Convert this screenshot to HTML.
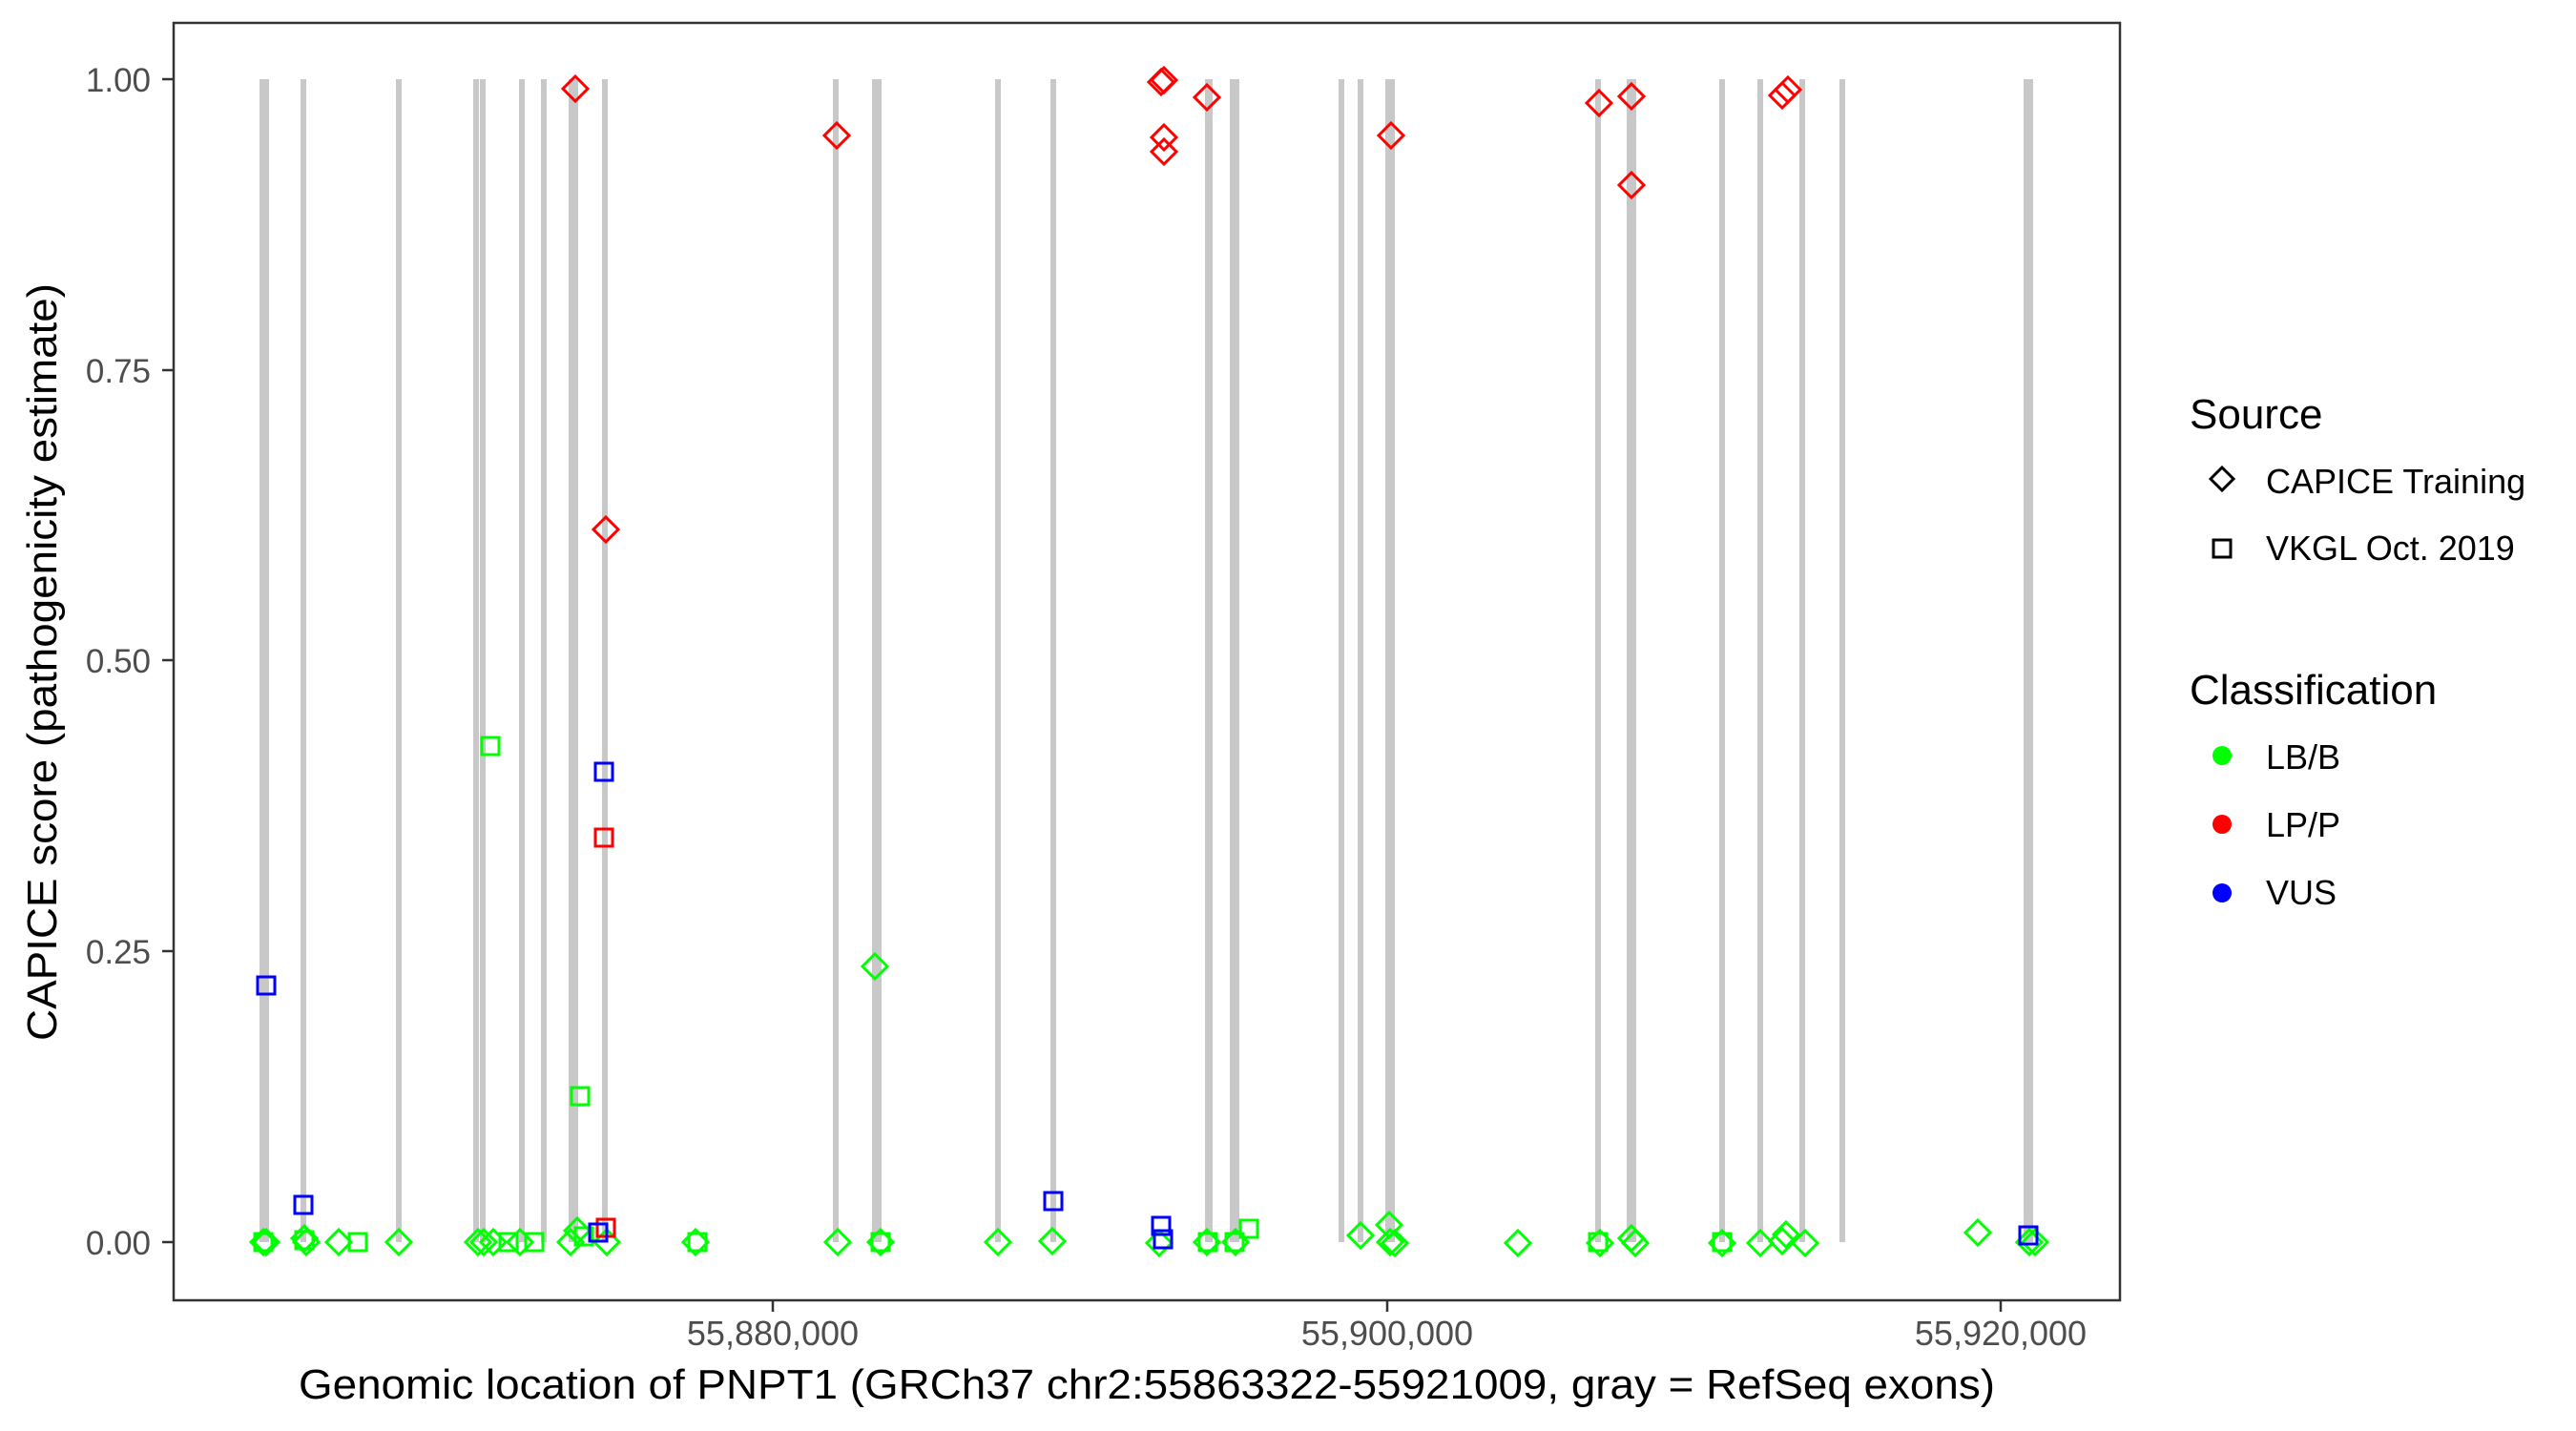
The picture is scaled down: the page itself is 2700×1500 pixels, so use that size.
<!DOCTYPE html>
<html><head><meta charset="utf-8"><style>
html,body{margin:0;padding:0;background:#fff;}
svg{display:block;}
text{font-family:"Liberation Sans",Arial,sans-serif;}
</style></head><body>
<svg width="2700" height="1500" viewBox="0 0 2700 1500" xmlns="http://www.w3.org/2000/svg">
<defs>
<path id="d" d="M0,-13 L13,0 L0,13 L-13,0 Z" fill="none" stroke-width="3"/>
<rect id="s" x="-9" y="-9" width="18" height="18" fill="none" stroke-width="3"/>
</defs>
<rect x="0" y="0" width="2700" height="1500" fill="#fff"/>
<!-- exons -->
<g stroke="#c8c8c8">
<g stroke-width="10">
<line x1="277" y1="83" x2="277" y2="1302"/><line x1="601" y1="83" x2="601" y2="1302"/>
<line x1="919" y1="83" x2="919" y2="1302"/><line x1="1294" y1="83" x2="1294" y2="1302"/>
<line x1="1457" y1="83" x2="1457" y2="1302"/><line x1="1710" y1="83" x2="1710" y2="1302"/>
<line x1="2126" y1="83" x2="2126" y2="1302"/>
</g>
<g stroke-width="6">
<line x1="318" y1="83" x2="318" y2="1302"/><line x1="418" y1="83" x2="418" y2="1302"/>
<line x1="499" y1="83" x2="499" y2="1302"/><line x1="506" y1="83" x2="506" y2="1302"/>
<line x1="547" y1="83" x2="547" y2="1302"/><line x1="570" y1="83" x2="570" y2="1302"/>
<line x1="634" y1="83" x2="634" y2="1302"/><line x1="876" y1="83" x2="876" y2="1302"/>
<line x1="1046" y1="83" x2="1046" y2="1302"/><line x1="1104" y1="83" x2="1104" y2="1302"/>
<line x1="1267" y1="83" x2="1267" y2="1302" stroke-width="8"/>
<line x1="1406" y1="83" x2="1406" y2="1302"/><line x1="1426" y1="83" x2="1426" y2="1302"/>
<line x1="1675" y1="83" x2="1675" y2="1302"/><line x1="1805" y1="83" x2="1805" y2="1302"/>
<line x1="1845" y1="83" x2="1845" y2="1302"/><line x1="1889" y1="83" x2="1889" y2="1302"/>
<line x1="1931" y1="83" x2="1931" y2="1302"/>
</g>
</g>
<!-- green points -->
<g stroke="#00ff00">
<use href="#d" x="276" y="1302"/><use href="#d" x="279" y="1302"/><use href="#s" x="276" y="1302"/>
<use href="#d" x="319" y="1298"/><use href="#d" x="321" y="1302"/><use href="#s" x="319" y="1300"/>
<use href="#d" x="355" y="1302"/><use href="#s" x="375" y="1302"/><use href="#d" x="418" y="1302"/>
<use href="#d" x="501" y="1302"/><use href="#d" x="507" y="1302"/><use href="#d" x="517" y="1302"/>
<use href="#s" x="533" y="1302"/><use href="#d" x="545" y="1302"/><use href="#s" x="560" y="1302"/>
<use href="#d" x="598" y="1302"/><use href="#d" x="605" y="1290"/><use href="#s" x="612" y="1296"/>
<use href="#d" x="636" y="1302"/><use href="#d" x="729" y="1302"/><use href="#s" x="731" y="1302"/>
<use href="#d" x="878" y="1302"/><use href="#d" x="917" y="1013"/><use href="#d" x="923" y="1302"/><use href="#s" x="923" y="1302"/>
<use href="#s" x="514" y="782"/><use href="#s" x="608" y="1149"/>
<use href="#d" x="1046" y="1302"/><use href="#d" x="1103" y="1301"/><use href="#d" x="1215" y="1303"/>
<use href="#d" x="1265" y="1302"/><use href="#s" x="1266" y="1302"/><use href="#d" x="1295" y="1302"/><use href="#s" x="1294" y="1302"/>
<use href="#s" x="1309" y="1288"/><use href="#d" x="1426" y="1295"/><use href="#d" x="1456" y="1284"/>
<use href="#d" x="1457" y="1302"/><use href="#d" x="1462" y="1303"/><use href="#d" x="1591" y="1303"/>
<use href="#d" x="1677" y="1303"/><use href="#s" x="1675" y="1302"/><use href="#d" x="1710" y="1298"/><use href="#d" x="1714" y="1303"/>
<use href="#d" x="1805" y="1303"/><use href="#s" x="1805" y="1302"/><use href="#d" x="1845" y="1303"/>
<use href="#d" x="1868" y="1301"/><use href="#d" x="1872" y="1294"/><use href="#d" x="1892" y="1303"/>
<use href="#d" x="2073" y="1292"/><use href="#d" x="2127" y="1302"/><use href="#d" x="2133" y="1302"/>
</g>
<!-- red -->
<g stroke="#ff0000">
<use href="#d" x="603" y="93"/><use href="#d" x="635" y="555"/><use href="#d" x="877" y="142"/>
<use href="#s" x="633" y="878"/><use href="#s" x="635" y="1287"/>
<use href="#d" x="1217" y="86"/><use href="#d" x="1220" y="84"/><use href="#d" x="1220" y="144"/>
<use href="#d" x="1220" y="159"/><use href="#d" x="1265" y="102"/><use href="#d" x="1458" y="142"/>
<use href="#d" x="1676" y="108"/><use href="#d" x="1710" y="101"/><use href="#d" x="1710" y="194"/>
<use href="#d" x="1868" y="100"/><use href="#d" x="1874" y="94"/>
</g>
<!-- blue -->
<g stroke="#0000ff">
<use href="#s" x="279" y="1033"/><use href="#s" x="318" y="1263"/><use href="#s" x="633" y="809"/>
<use href="#s" x="627" y="1292"/><use href="#s" x="1104" y="1259"/><use href="#s" x="1217" y="1285"/>
<use href="#s" x="1219" y="1299"/><use href="#s" x="2126" y="1295"/>
</g>
<!-- panel -->
<rect x="182" y="24" width="2040" height="1339" fill="none" stroke="#333" stroke-width="2.5"/>
<!-- y ticks -->
<g stroke="#333" stroke-width="2.5">
<line x1="170" y1="83" x2="182" y2="83"/><line x1="170" y1="388" x2="182" y2="388"/>
<line x1="170" y1="692" x2="182" y2="692"/><line x1="170" y1="997" x2="182" y2="997"/>
<line x1="170" y1="1302" x2="182" y2="1302"/>
<line x1="810" y1="1363" x2="810" y2="1375"/><line x1="1454" y1="1363" x2="1454" y2="1375"/>
<line x1="2097" y1="1363" x2="2097" y2="1375"/>
</g>
<g fill="#4d4d4d" font-size="35" text-anchor="end">
<text x="158" y="96">1.00</text><text x="158" y="401">0.75</text><text x="158" y="705">0.50</text>
<text x="158" y="1010">0.25</text><text x="158" y="1315">0.00</text>
</g>
<g fill="#4d4d4d" font-size="36" text-anchor="middle">
<text x="810" y="1410">55,880,000</text><text x="1454" y="1410">55,900,000</text><text x="2097" y="1410">55,920,000</text>
</g>
<text x="1202" y="1466" font-size="44" text-anchor="middle" textLength="1778" lengthAdjust="spacingAndGlyphs">Genomic location of PNPT1 (GRCh37 chr2:55863322-55921009, gray = RefSeq exons)</text>
<text transform="translate(59,694) rotate(-90)" font-size="44" text-anchor="middle" textLength="794" lengthAdjust="spacingAndGlyphs">CAPICE score (pathogenicity estimate)</text>
<!-- legend -->
<text x="2295" y="449" font-size="44">Source</text>
<path d="M2329,490 L2341,502 L2329,514 L2317,502 Z" fill="none" stroke="#000" stroke-width="3"/>
<text x="2375" y="517" font-size="36">CAPICE Training</text>
<rect x="2320" y="566" width="18" height="18" fill="none" stroke="#000" stroke-width="3"/>
<text x="2375" y="587" font-size="36">VKGL Oct. 2019</text>
<text x="2295" y="738" font-size="44">Classification</text>
<circle cx="2329" cy="792" r="10" fill="#00ff00"/><text x="2375" y="806" font-size="36">LB/B</text>
<circle cx="2329" cy="864" r="10" fill="#ff0000"/><text x="2375" y="877" font-size="36">LP/P</text>
<circle cx="2329" cy="936" r="10" fill="#0000ff"/><text x="2375" y="948" font-size="36">VUS</text>
</svg>
</body></html>
